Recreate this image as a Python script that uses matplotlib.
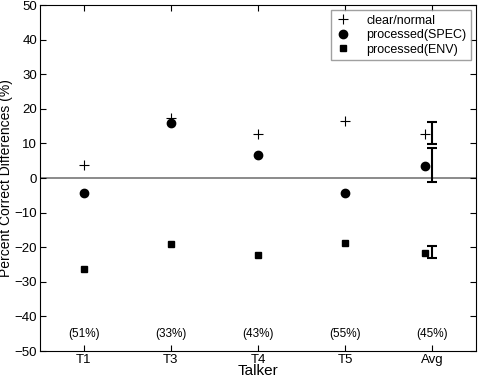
import matplotlib
matplotlib.use("Agg")
import matplotlib.pyplot as plt
import numpy as np

plt.rcParams["font.family"] = ["Liberation Sans", "DejaVu Sans"]

TALKERS = ["T1", "T3", "T4", "T5", "Avg"]
CLEAR = [3.7, 17.5, 12.8, 16.6, 12.8]
SPEC = [-4.3, 16.0, 6.8, -4.4, 3.6]
ENV = [-26.3, -19.1, -22.2, -18.8, -21.6]
PCT = ["(51%)", "(33%)", "(43%)", "(55%)", "(45%)"]
# error bars on the average (centre, half-width)
ERR_CENTRE = [13.0, 3.8, -21.4]
ERR_HALF = [3.1, 4.9, 1.75]


def main():
    fig = plt.figure(figsize=(4.78, 3.78), dpi=100)
    ax = fig.add_axes([0.0837, 0.0714, 0.912, 0.915])
    x = np.arange(1, len(TALKERS) + 1, dtype=float)
    xm = x.copy()
    xm[-1] -= 0.09  # avg markers shifted left of the error bars

    ax.axhline(0, color="#777777", lw=1.2, zorder=1)
    ax.plot(xm, CLEAR, "+", color="black", ms=6.5, mew=0.8, ls="none",
            label="clear/normal")
    ax.plot(xm, SPEC, "o", color="black", ms=6, ls="none",
            label="processed(SPEC)")
    ax.plot(xm, ENV, "s", color="black", ms=4.5, ls="none",
            label="processed(ENV)")
    ax.errorbar([x[-1]] * 3, ERR_CENTRE, yerr=ERR_HALF, fmt="none",
                ecolor="black", elinewidth=1.5, capsize=3.5, capthick=1.5)

    for xi, p in zip(x, PCT):
        ax.text(xi, -45, p, ha="center", va="center", fontsize=8.5)

    ax.set_xlim(0.5, 5.5)
    ax.set_ylim(-50, 50)
    ax.set_xticks(x)
    ax.set_xticklabels(TALKERS)
    ax.set_yticks(np.arange(-50, 51, 10))
    ax.tick_params(labelsize=9.5, pad=2)
    ax.tick_params(direction="in", top=True, right=True, length=4)
    ax.set_xlabel("Talker", fontsize=11, labelpad=-1)
    ax.set_ylabel("Percent Correct Differences (%)", fontsize=10, labelpad=1)
    ax.legend(loc="upper right", fontsize=9, frameon=True, fancybox=False,
              edgecolor="#888888", borderaxespad=0.4, handlelength=1.2,
              handletextpad=1.3, labelspacing=0.2, borderpad=0.35)
    fig.savefig("out.png", dpi=100)
    plt.close(fig)


if __name__ == "__main__":
    main()
